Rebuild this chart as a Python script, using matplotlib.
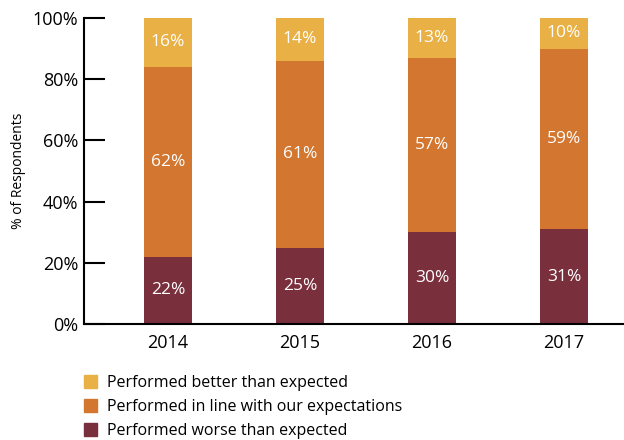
import numpy as np
import matplotlib.pyplot as plt
from matplotlib.patches import Patch

plt.rcParams['font.family'] = ['Open Sans', 'DejaVu Sans']

years = ['2014', '2015', '2016', '2017']
worse = [22, 25, 30, 31]
in_line = [62, 61, 57, 59]
better = [16, 14, 13, 10]

labels = ['Performed better than expected',
          'Performed in line with our expectations',
          'Performed worse than expected']
colors = {'better': '#E8B045', 'in_line': '#D3762F', 'worse': '#7A2F3D'}

fig = plt.figure(figsize=(6.24, 4.4), dpi=100)
ax = fig.add_axes([0.1346, 0.2636, 0.8654, 0.6955])

x = np.arange(len(years))
w = 0.36
worse_a = np.array(worse)
inline_a = np.array(in_line)
better_a = np.array(better)

ax.bar(x, worse_a, w, color=colors['worse'])
ax.bar(x, inline_a, w, bottom=worse_a, color=colors['in_line'])
ax.bar(x, better_a, w, bottom=worse_a + inline_a, color=colors['better'])

# value labels in the middle of each segment
for i in range(len(years)):
    segs = [(0, worse_a[i]), (worse_a[i], inline_a[i]), (worse_a[i] + inline_a[i], better_a[i])]
    for b, v in segs:
        ax.text(x[i], b + v / 2, f'{v}%', ha='center', va='center',
                color='white', fontsize=12.5)

ax.set_xlim(-0.636, 3.455)
ax.set_ylim(0, 100)
ax.set_yticks(np.arange(0, 101, 20))
ax.set_yticklabels([f'{t}%' for t in range(0, 101, 20)], fontsize=13)
ax.set_xticks(x)
ax.set_xticklabels(years, fontsize=13)
ax.tick_params(axis='y', direction='in', length=15, width=1.5, pad=4)
ax.tick_params(axis='x', length=0, pad=7)
ax.set_ylabel('% of Respondents', fontsize=10, labelpad=5)

for s in ['top', 'right']:
    ax.spines[s].set_visible(False)
for s in ['left', 'bottom']:
    ax.spines[s].set_linewidth(1.5)

handles = [Patch(color=colors['better']), Patch(color=colors['in_line']), Patch(color=colors['worse'])]
fig.legend(handles, labels, loc='upper left', bbox_to_anchor=(0.125, 0.162),
           frameon=False, fontsize=11.5, handlelength=0.8, handleheight=0.8,
           handletextpad=0.6, labelspacing=0.5, borderaxespad=0)

fig.savefig('out.png', dpi=100)
